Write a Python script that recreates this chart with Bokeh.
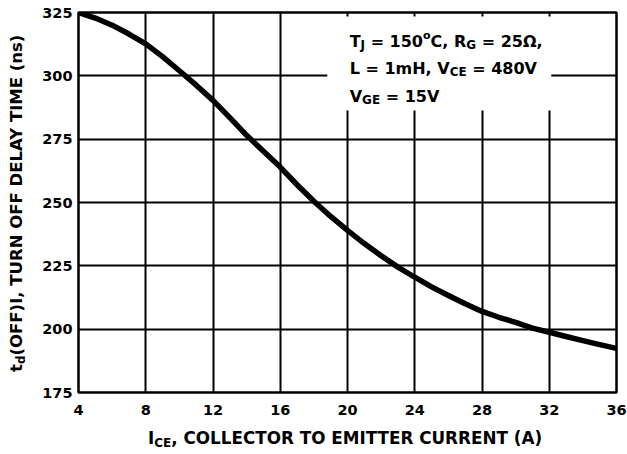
from bokeh.plotting import figure
from bokeh.models import Range1d, FixedTicker, Label, Div
from bokeh.layouts import column, row
from bokeh.embed import file_html
from bokeh.resources import INLINE

# ---- data ----
ice = [4, 5, 6, 7, 8, 9, 10, 11, 12, 13, 14, 15, 16, 17, 18, 19, 20,
       21, 22, 23, 24, 25, 26, 27, 28, 29, 30, 31, 32, 33, 34, 35, 36]
td_off = [325, 322.8, 320, 316.5, 312.6, 307.6, 302, 296.3, 290.3, 283.5,
          276.5, 270.2, 264, 257, 250.5, 244.5, 239, 233.8, 229, 224.5,
          220.5, 216.7, 213.3, 210, 207, 204.7, 202.7, 200.4, 198.8, 197.1,
          195.5, 193.9, 192.4]
x_ticks = [4, 8, 12, 16, 20, 24, 28, 32, 36]
y_ticks = [175, 200, 225, 250, 275, 300, 325]

x_title = ("I", "CE", ", COLLECTOR TO EMITTER CURRENT (A)")
y_title = ("t", "d", "(OFF)I, TURN OFF DELAY TIME (ns)")

# note box (white patch hiding the grid behind the conditions text)
box_left, box_right, box_top, box_bottom = [18.8], [32.12], [323.4], [286.3]

FONT = "DejaVu Sans"
W = {' ': 0.348, '(': 0.457, ')': 0.457, ',': 0.380, '=': 0.838, 'A': 0.774,
     'C': 0.734, 'D': 0.830, 'E': 0.683, 'F': 0.630, 'G': 0.821, 'H': 0.837,
     'I': 0.372, 'J': 0.372, 'L': 0.637, 'M': 0.995, 'N': 0.837, 'O': 0.850,
     'R': 0.770, 'T': 0.682, 'U': 0.812, 'V': 0.774, 'Y': 0.724, 'd': 0.716,
     'm': 1.042, 'n': 0.712, 'o': 0.687, 's': 0.595, 't': 0.478, 'Ω': 0.830}


def tw(text, size):
    return sum(W.get(c, 0.696) for c in text) * size


YW = 30      # width of the y-title strip
PH = 424     # height of the figure

p = figure(width=627 - YW, height=PH, output_backend="svg",
           toolbar_location=None,
           x_range=Range1d(4, 36), y_range=Range1d(175, 325),
           min_border_left=78 - YW, min_border_right=11, min_border_top=12,
           min_border_bottom=PH - 392)
p.background_fill_color = "white"
p.border_fill_color = "white"
p.outline_line_color = "black"
p.outline_line_width = 2.5

for ax, ticks in ((p.xaxis[0], x_ticks), (p.yaxis[0], y_ticks)):
    ax.ticker = FixedTicker(ticks=ticks)
    ax.major_label_text_font = FONT
    ax.major_label_text_font_style = "bold"
    ax.major_label_text_font_size = "14.5px"
    ax.major_label_text_color = "black"
    ax.axis_line_color = None
    ax.major_tick_line_color = None
    ax.minor_tick_line_color = None
    ax.major_tick_out = 0
    ax.major_tick_in = 0
p.xaxis[0].major_label_standoff = 12
p.yaxis[0].major_label_standoff = 6

p.xgrid.ticker = FixedTicker(ticks=x_ticks)
p.ygrid.ticker = FixedTicker(ticks=y_ticks)
for g in (p.xgrid[0], p.ygrid[0]):
    g.grid_line_color = "black"
    g.grid_line_width = 2
    g.grid_line_alpha = 1.0

p.quad(left=box_left, right=box_right, top=box_top, bottom=box_bottom,
       fill_color="white", line_color=None)

p.line(ice, td_off, line_width=5.5, line_color="black",
       line_join="round", line_cap="round")


def rich(x, y, segs):
    pos = 0.0
    for text, size, shift in segs:
        lead = len(text) - len(text.lstrip(" "))
        xo = pos + lead * W[" "] * size
        p.add_layout(Label(x=x, y=y, x_offset=xo, y_offset=shift,
                           text=text.strip(" "), text_font=FONT,
                           text_font_style="bold",
                           text_font_size=f"{size}px", text_align="left",
                           text_baseline="alphabetic", text_color="black"))
        pos += tw(text, size)


# conditions text
rich(20.13, 313.4, [("T", 16, 0), ("J", 12, -3), (" = 150", 16, 0),
                    ("o", 11, 6), ("C, R", 16, 0), ("G", 12, -3),
                    (" = 25Ω,", 16, 0)])
rich(20.13, 302.8, [("L = 1mH, V", 16, 0), ("CE", 12, -3),
                    (" = 480V", 16, 0)])
rich(20.13, 291.8, [("V", 16, 0), ("GE", 12, -3), (" = 15V", 16, 0)])

SUB = "font-size:12px;position:relative;top:3px;"
BASE = ("white-space:nowrap;width:max-content;font-family:'DejaVu Sans';"
        "font-weight:bold;line-height:normal;color:#000;")

ydiv = Div(width=YW, height=PH, margin=0, text=(
    f'<div style="{BASE}font-size:16.5px;transform-origin:0 0;'
    f'transform:translate(6.5px,372px) rotate(-90deg);">'
    f'{y_title[0]}<span style="{SUB}">{y_title[1]}</span>{y_title[2]}</div>'))

xdiv = Div(width=627, height=454 - PH, margin=0, text=(
    f'<div style="{BASE}font-size:16.8px;padding-left:148px;padding-top:4px;">'
    f'{x_title[0]}<span style="{SUB}">{x_title[1]}</span>{x_title[2]}</div>'))

layout = column(row(ydiv, p, spacing=0), xdiv, spacing=0)

open("out.html", "w").write(file_html(layout, INLINE))
